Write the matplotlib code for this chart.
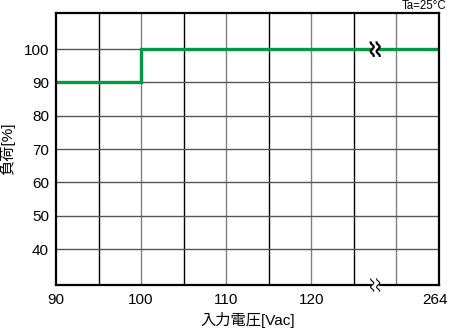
import numpy as np
import matplotlib
matplotlib.use('Agg')
import matplotlib.pyplot as plt
import matplotlib.transforms as mtransforms

plt.rcParams['font.family'] = ['Liberation Sans', 'Noto Sans CJK JP', 'DejaVu Sans']

# data: input voltage vs load
voltage = [90, 100, 100, 264]
load = [90, 90, 100, 100]

x_ticks = [90, 100, 110, 120, 264]
y_ticks = [40, 50, 60, 70, 80, 90, 100]

# broken axis: 90..127.5 linear, then jump so that 264 sits at 135
break_at = 127.5
def to_axis(v):
    return np.interp(v, [90, break_at, 264], [90, break_at, 135])

fig = plt.figure(figsize=(4.5, 3.3), dpi=100)
ax = fig.add_axes([56/450, 45/330, 383/450, 272.5/330])

ax.set_xlim(90, 135)
ax.set_ylim(29.2, 111)

# grid
for xv in np.arange(95, 135, 5):
    c = '#000000' if xv % 10 == 5 else '#808080'
    ax.axvline(xv, color=c, lw=1.0, zorder=1)
for yv in y_ticks:
    ax.axhline(yv, color='#555555', lw=1.0, zorder=1)

ax.plot(to_axis(np.array(voltage)), load, color='#009944', lw=2.4,
        solid_joinstyle='miter', zorder=3)

# break marks
def wiggle(xc, yc, h):
    t = np.linspace(-1, 1, 40)
    return t, xc + 0.18 * np.sin(t * np.pi * 1.5), yc + t * h

for dx in (-0.35, 0.35):
    t, xs, ys = wiggle(break_at + dx, 100, 2.0)
    ax.plot(xs, ys, color='black', lw=1.6, zorder=5)
ax.fill_betweenx([98, 102], break_at - 0.2, break_at + 0.2, color='white', zorder=4)

ax.fill_betweenx([28, 30.3], break_at - 0.35, break_at + 0.35, color='white',
                 zorder=6, clip_on=False)
for dx in (-0.35, 0.35):
    t, xs, ys = wiggle(break_at + dx, 29.2, 1.8)
    ax.plot(xs, ys, color='black', lw=0.8, zorder=7, clip_on=False)

ax.set_xticks(to_axis(np.array(x_ticks)))
ax.set_xticklabels([str(v) for v in x_ticks])
ax.set_yticks(y_ticks)
ax.tick_params(length=0, labelsize=11, pad=5)
ax.tick_params(axis='x', pad=6)

# nudge the last x label so it stays inside the figure
last = ax.get_xticklabels()[-1]
last.set_transform(last.get_transform() +
                   mtransforms.ScaledTranslation(-4/100, 0, fig.dpi_scale_trans))

for s in ax.spines.values():
    s.set_linewidth(1.6)
    s.set_zorder(5)

ax.set_xlabel('入力電圧[Vac]', fontsize=11, labelpad=3)
ax.set_ylabel('負荷[%]', fontsize=11, labelpad=6)
fig.text(446/450, 1 - 6/330, 'Ta=25°C', fontsize=8.3, ha='right', va='center')

fig.savefig('out.png', dpi=100)
